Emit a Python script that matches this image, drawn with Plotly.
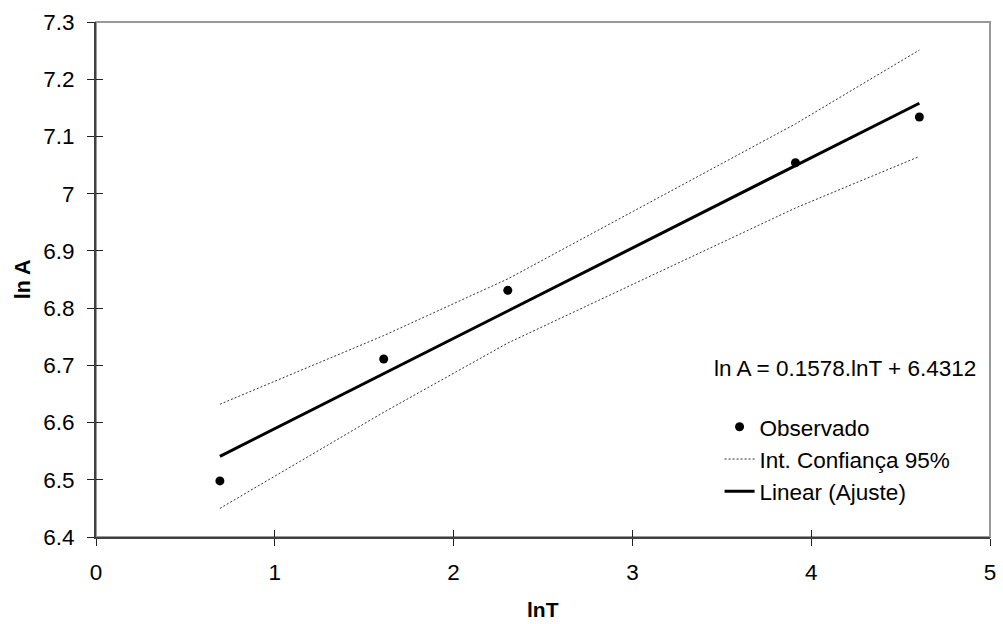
import plotly.graph_objects as go

# Data
lnT = [0.693, 1.609, 2.303, 3.912, 4.605]
lnA_obs = [6.498, 6.711, 6.831, 7.054, 7.134]
lnA_fit = [6.541, 6.685, 6.795, 7.049, 7.158]
ci_upper = [6.632, 6.752, 6.851, 7.122, 7.251]
ci_lower = [6.450, 6.618, 6.739, 6.975, 7.065]

x_ticks = [0, 1, 2, 3, 4, 5]
y_ticks = [6.4, 6.5, 6.6, 6.7, 6.8, 6.9, 7.0, 7.1, 7.2, 7.3]
y_tick_text = ["6.4", "6.5", "6.6", "6.7", "6.8", "6.9", "7", "7.1", "7.2", "7.3"]

FONT = "Liberation Sans, Arial, sans-serif"
FS = 22.5

fig = go.Figure()

fig.add_trace(go.Scatter(
    x=lnT, y=lnA_obs, mode="markers", name="Observado",
    marker=dict(color="black", size=9, symbol="circle"),
    legendrank=1,
))
fig.add_trace(go.Scatter(
    x=lnT, y=ci_upper, mode="lines", name="Int. Confiança 95%",
    line=dict(color="#333333", width=1, dash="2px,2px"),
    legendgroup="ci", legendrank=2,
))
fig.add_trace(go.Scatter(
    x=lnT, y=ci_lower, mode="lines", name="Int. Confiança 95%",
    line=dict(color="#333333", width=1, dash="2px,2px"),
    legendgroup="ci", showlegend=False,
))
fig.add_trace(go.Scatter(
    x=lnT, y=lnA_fit, mode="lines", name="Linear (Ajuste)",
    line=dict(color="black", width=3),
    legendrank=3,
))
# dummy trace to activate overlay axes (inner half of crossing ticks)
fig.add_trace(go.Scatter(
    x=[None], y=[None], xaxis="x2", yaxis="y2",
    showlegend=False, hoverinfo="skip",
))

axis_common = dict(showgrid=False, zeroline=False)

fig.update_layout(
    width=1003, height=624,
    margin=dict(l=96, r=7, t=22, b=87),
    paper_bgcolor="white", plot_bgcolor="white",
    font=dict(family=FONT, size=FS, color="black"),
    xaxis=dict(
        range=[0, 5], tickvals=x_ticks, ticktext=[str(v) for v in x_ticks],
        ticks="outside", ticklen=7, tickwidth=1, tickcolor="#222222",
        showline=True, linecolor="#404040", linewidth=2,
        ticklabelstandoff=7,
        tickfont=dict(family=FONT, size=FS, color="black"),
        **axis_common,
    ),
    yaxis=dict(
        range=[6.4, 7.3], tickvals=y_ticks, ticktext=y_tick_text,
        ticks="outside", ticklen=7, tickwidth=1, tickcolor="#222222",
        showline=True, linecolor="#404040", linewidth=2,
        ticklabelstandoff=8,
        tickfont=dict(family=FONT, size=FS, color="black"),
        **axis_common,
    ),
    xaxis2=dict(
        range=[0, 5], tickvals=x_ticks, overlaying="x", anchor="y2", side="bottom",
        ticks="inside", ticklen=7, tickwidth=1, tickcolor="#222222",
        showticklabels=False, showline=False, **axis_common,
    ),
    yaxis2=dict(
        range=[6.4, 7.3], tickvals=y_ticks, overlaying="y", anchor="x2", side="left",
        ticks="inside", ticklen=7, tickwidth=1, tickcolor="#222222",
        showticklabels=False, showline=False, **axis_common,
    ),
    showlegend=True,
    legend=dict(
        x=0.6975, y=0.255, xanchor="left", yanchor="top",
        bgcolor="rgba(0,0,0,0)", borderwidth=0,
        font=dict(family=FONT, size=FS, color="black"),
        traceorder="normal", tracegroupgap=0,
    ),
    shapes=[dict(
        type="rect", xref="paper", yref="paper", x0=0, x1=1, y0=0, y1=1,
        line=dict(color="#999999", width=2), layer="below",
    )],
    annotations=[
        dict(text="ln A = 0.1578.lnT + 6.4312", xref="paper", yref="paper",
             x=0.987, y=0.328, xanchor="right", yanchor="middle", showarrow=False,
             font=dict(family=FONT, size=FS, color="black")),
        dict(text="<b>lnT</b>", xref="paper", yref="paper",
             x=0.5, y=-0.1417, xanchor="center", yanchor="middle", showarrow=False,
             font=dict(family=FONT, size=21, color="black")),
        dict(text="<b>ln A</b>", xref="paper", yref="paper",
             x=-0.082, y=0.5, xanchor="center", yanchor="middle", showarrow=False,
             textangle=-90, font=dict(family=FONT, size=21.5, color="black")),
    ],
)

fig.write_html(
    "out.html",
    config={"displayModeBar": False},
    post_script="document.body.style.margin='0px';",
)
